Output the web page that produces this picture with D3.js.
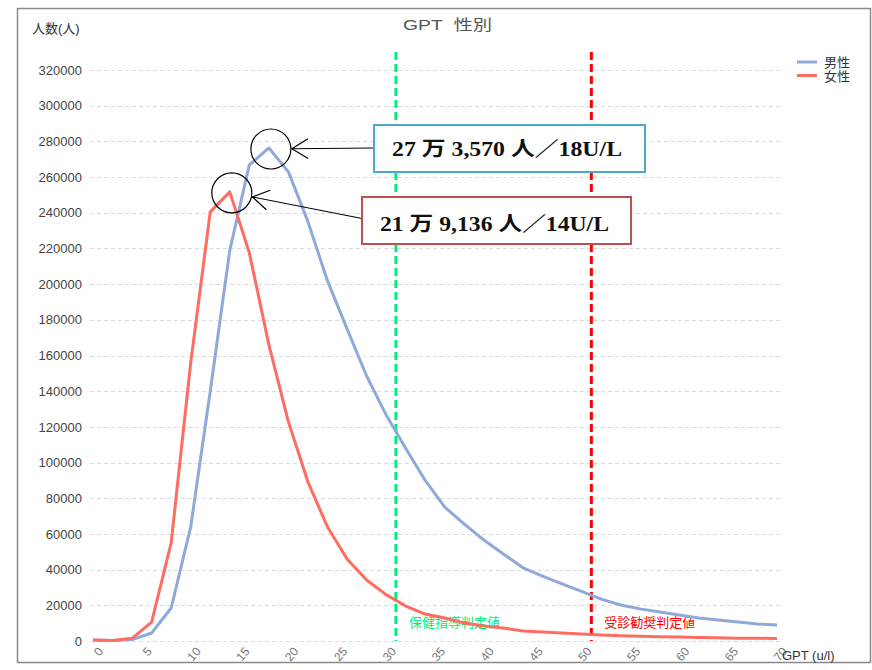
<!DOCTYPE html>
<html><head><meta charset="utf-8">
<script src="https://cdn.jsdelivr.net/npm/d3@7"></script>
<style>body{margin:0;background:#fff}</style>
</head><body>
<svg id="c" width="872" height="670"></svg>
<script>
// ---- data ----
const gptValues = [0,2,4,6,8,10,12,14,16,18,20,22,24,26,28,30,32,34,36,38,40,42,44,46,48,50,52,54,56,58,60,62,64,66,68,70];
const maleCounts = [500,300,800,4500,18500,64000,140000,219000,266800,276300,262900,235000,201800,174900,148500,126700,108000,90000,75000,65500,56600,48800,41000,36400,32000,27800,23500,20200,18000,16300,14600,12900,11800,10600,9500,9000];
const femaleCounts = [500,300,1500,10600,55000,156000,240500,251700,217500,166000,122800,89100,63900,46000,34200,26000,19600,15100,12900,10100,8400,7300,5600,5000,4500,3900,3400,3000,2700,2400,2200,2000,1800,1600,1500,1400];
const yTicks = [0,20000,40000,60000,80000,100000,120000,140000,160000,180000,200000,220000,240000,260000,280000,300000,320000];
const xTicks = [0,5,10,15,20,25,30,35,40,45,50,55,60,65,70];
const seriesNames = ["男性","女性"];
const thresholds = [31, 51];
const thresholdLabels = ["保健指導判定値","受診勧奨判定値"];
const peakGpt = [18, 14];
const peakNotes = ["27 万 3,570 人／18U/L","21 万 9,136 人／14U/L"];

// ---- layout ----
const svg = d3.select("#c");
const x = d3.scaleLinear().domain([0,70]).range([93,777]);
const y = d3.scaleLinear().domain([0,320000]).range([641,70]);
const colors = ["#8EA9DA","#FF6C62"];
const thrColors = ["#00EE78","#FF0000"];
const sans = "'Liberation Sans', Arial, 'Noto Sans CJK JP', sans-serif";

svg.append("rect").attr("x",17.5).attr("y",8.5).attr("width",853).attr("height",654)
  .attr("fill","none").attr("stroke","#8a8a8a").attr("stroke-width",1.5);

// grid
svg.append("g").selectAll("line").data(yTicks).join("line")
  .attr("x1",90).attr("x2",782).attr("y1",d=>Math.round(y(d))+0.5).attr("y2",d=>Math.round(y(d))+0.5)
  .attr("stroke","#dcdcdc").attr("stroke-dasharray","4,3");

// y axis labels
const ya = svg.append("g").attr("transform","translate(90,0)")
  .call(d3.axisLeft(y).tickValues(yTicks).tickSize(0).tickPadding(8).tickFormat(d3.format("d")));
ya.select(".domain").remove();
ya.selectAll("text").attr("font-family",sans).attr("font-size",13).attr("fill","#444");

// x axis labels
const xa = svg.append("g").attr("transform","translate(0,641)")
  .call(d3.axisBottom(x).tickValues(xTicks).tickSize(0).tickFormat(d3.format("d")));
xa.select(".domain").remove();
xa.selectAll("text").attr("font-family",sans).attr("font-size",12).attr("fill","#777")
  .attr("text-anchor","end").attr("dy","0.35em")
  .attr("transform","translate(7,8) rotate(-50)").attr("x",0).attr("y",0);

// threshold lines
thresholds.forEach((t,i)=>{
  svg.append("line").attr("x1",x(t)).attr("x2",x(t)).attr("y1",52).attr("y2",641)
    .attr("stroke",thrColors[i]).attr("stroke-width",3).attr("stroke-dasharray","8,4");
  svg.append("text").attr("x",x(t)+13).attr("y",627).text(thresholdLabels[i])
    .attr("font-family",sans).attr("font-size",13).attr("fill",thrColors[i]);
});

// series lines
const line = d3.line().x((d,i)=>x(gptValues[i])).y(d=>y(d));
[maleCounts,femaleCounts].forEach((s,i)=>{
  svg.append("path").attr("d",line(s)).attr("fill","none").attr("stroke",colors[i])
    .attr("stroke-width",3).attr("stroke-linejoin","round");
});

// titles
svg.append("text").attr("x",403).attr("y",30).text("GPT\u00A0\u00A0性別")
  .attr("font-family",sans).attr("font-size",15).attr("fill","#555")
  .attr("textLength",89).attr("lengthAdjust","spacingAndGlyphs");
svg.append("text").attr("x",32).attr("y",33).text("人数(人)")
  .attr("font-family",sans).attr("font-size",13).attr("fill","#333");
svg.append("text").attr("x",782).attr("y",660).text("GPT (u/l)")
  .attr("font-family",sans).attr("font-size",13).attr("fill","#333");

// legend
seriesNames.forEach((n,i)=>{
  svg.append("line").attr("x1",797).attr("x2",817).attr("y1",62+i*13.5).attr("y2",62+i*13.5)
    .attr("stroke",colors[i]).attr("stroke-width",3);
  svg.append("text").attr("x",824).attr("y",67+i*13.5).text(n)
    .attr("font-family",sans).attr("font-size",13).attr("fill","#333");
});

// annotations
const boxes = [{x0:374,y0:125,x1:645,y1:172,stroke:"#4BACC6",tx:392,tw:230,ty:156},
               {x0:362,y0:197,x1:631,y1:244,stroke:"#C0504D",tx:380,tw:229,ty:231}];
const series = [maleCounts,femaleCounts];
const r = 20;
peakGpt.forEach((g,i)=>{
  const idx = gptValues.indexOf(g);
  const cx = x(g)+2, cy = y(series[i][idx])+1;
  svg.append("circle").attr("cx",cx).attr("cy",cy).attr("r",r)
    .attr("fill","none").attr("stroke","#000").attr("stroke-width",1.2);
  const b = boxes[i];
  const sx = b.x0, sy = i===0 ? cy-1 : (b.y0+b.y1)/2-2;
  const ang = Math.atan2(sy-cy, sx-cx);
  const tx = cx + (r+1)*Math.cos(ang), ty = cy + (r+1)*Math.sin(ang);
  svg.append("line").attr("x1",sx).attr("y1",sy).attr("x2",tx).attr("y2",ty)
    .attr("stroke","#000").attr("stroke-width",1.2);
  const back = Math.atan2(sy-ty, sx-tx);
  const L = 19, spread = 0.55;
  const p1 = [tx+L*Math.cos(back+spread), ty+L*Math.sin(back+spread)];
  const p2 = [tx+L*Math.cos(back-spread), ty+L*Math.sin(back-spread)];
  svg.append("path").attr("d",`M${p1[0]},${p1[1]}L${tx},${ty}L${p2[0]},${p2[1]}`)
    .attr("fill","none").attr("stroke","#000").attr("stroke-width",1.2);
  svg.append("rect").attr("x",b.x0).attr("y",b.y0).attr("width",b.x1-b.x0).attr("height",b.y1-b.y0)
    .attr("fill","#fff").attr("stroke",b.stroke).attr("stroke-width",2);
  svg.append("text").attr("x",b.tx).attr("y",b.ty).text(peakNotes[i])
    .attr("font-family","'Liberation Serif','Times New Roman','Noto Sans CJK JP',serif")
    .attr("font-weight","bold").attr("font-size",20).attr("fill","#111")
    .attr("textLength",b.tw).attr("lengthAdjust","spacingAndGlyphs");
});
</script>
</body></html>
